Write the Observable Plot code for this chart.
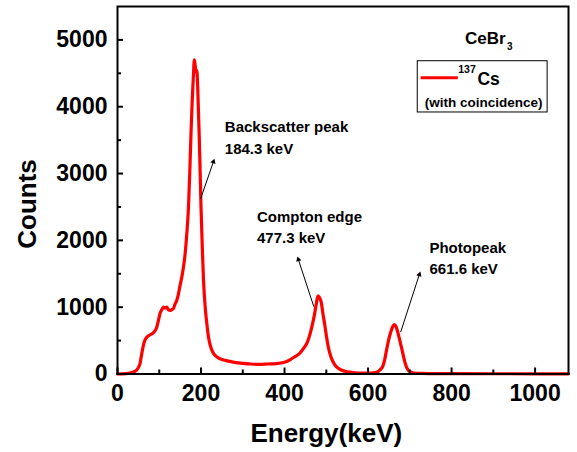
<!DOCTYPE html>
<html><head><meta charset="utf-8">
<script src="https://cdn.jsdelivr.net/npm/d3@7"></script>
<script src="https://cdn.jsdelivr.net/npm/@observablehq/plot@0.6"></script>
<style>body{margin:0;background:#fff}</style>
</head><body><div id="chart"></div>
<script>
// Spectrum (energy in keV, counts)
const energy = [0,10,20,30,40,45,50,54,58,62,66,70,76,82,88,94,98,102,106,110,114,118,122,126,130,134,138,142,146,150,154,158,162,166,170,173,176,179,182,184,186,188,190,192,194,196,198,200,203,206,210,214,218,222,228,235,245,260,280,300,320,340,360,380,400,415,425,435,445,455,462,467,472,476,480,484,488,492,496,500,504,508,514,520,530,545,560,580,600,615,622,630,635,640,645,650,655,660,663,667,671,675,680,685,690,695,700,710,730,800,900,1000,1080];
const counts = [0,2,5,15,35,55,95,160,300,430,510,550,580,600,630,700,800,910,960,1000,990,1000,960,950,965,980,1050,1100,1200,1330,1450,1600,1800,2100,2500,3000,3600,4100,4500,4700,4620,4520,4540,4300,3900,3500,3000,2500,1900,1400,1000,750,550,430,330,270,230,200,175,160,150,145,150,155,175,220,260,300,380,480,620,750,900,1050,1170,1140,1070,900,750,580,430,320,210,140,80,40,25,15,12,20,30,70,110,220,380,530,640,720,740,710,630,530,400,260,140,70,35,15,8,5,4,3,3];

const xMajorTicks = [0,200,400,600,800,1000];
const xMinorTicks = [100,300,500,700,900];
const yMajorTicks = [0,1000,2000,3000,4000,5000];
const yMinorTicks = [500,1500,2500,3500,4500];

// Annotation texts (data coordinates)
const noteX = [257,257,334,334,747,747];
const noteY = [3694,3370,2347,2035,1889,1574];
const noteText = ["Backscatter peak","184.3 keV","Compton edge","477.3 keV","Photopeak","661.6 keV"];

// Arrows (tail -> head, data coordinates)
const arrowX1 = [199,470,678];
const arrowY1 = [2622,1010,626];
const arrowX2 = [233,430,726];
const arrowY2 = [3236,1773,1549];

// Legend
const legendBox = {x1:719, x2:1030, y1:3914, y2:4681};
const legendSwatch = {x1:726, x2:815, y:4433};
const legendTexts = [
  {x:832, y:5017, text:"CeBr", size:17},
  {x:933, y:4901, text:"3", size:10},
  {x:816, y:4553, text:"137", size:10.5},
  {x:862, y:4407, text:"Cs", size:17.5}
];
const legendNote = {x:877, y:4068, text:"(with coincidence)"};

// layout
const W = 577, H = 452, mL = 117, mR = 9, mT = 6, mB = 78.5;
const xDomain = [0,1080], yDomain = [0,5500];
const frameW = W - mL - mR, frameH = H - mT - mB;
const kx = frameW / (xDomain[1]-xDomain[0]);
const ky = frameH / (yDomain[1]-yDomain[0]);
const majorLen = 6, minorLen = 4; // px, inward

const spectrum = energy.map((e,i)=>({energy:e, counts:counts[i]}));
const notes = noteText.map((t,i)=>({x:noteX[i], y:noteY[i], text:t}));
const headBack = 4.2; // px from tip to triangle centre
const arrows = arrowX1.map((d,i)=>{
  const dxp = (arrowX2[i]-arrowX1[i])*kx, dyp = -(arrowY2[i]-arrowY1[i])*ky;
  const len = Math.hypot(dxp, dyp);
  const ux = dxp/len, uy = dyp/len;
  return {x1:arrowX1[i], y1:arrowY1[i], x2:arrowX2[i], y2:arrowY2[i],
    hx: arrowX2[i] - ux*headBack/kx, hy: arrowY2[i] + uy*headBack/ky,
    angle: Math.atan2(dxp, -dyp)*180/Math.PI};
});

const font = "Liberation Sans, Arial, Helvetica, sans-serif";

const chart = Plot.plot({
  width: W, height: H,
  marginLeft: mL, marginRight: mR, marginTop: mT, marginBottom: mB,
  style: {fontFamily: font, fontWeight: "bold", background: "#fff", color: "#000"},
  x: {domain: xDomain, axis: null},
  y: {domain: yDomain, axis: null},
  marks: [
    Plot.line(spectrum, {x:"energy", y:"counts", stroke:"#ff0000", strokeWidth:3.2, curve:"monotone-x"}),
    Plot.frame({stroke:"#000", strokeWidth:2}),
    // inward ticks
    Plot.ruleX(xMajorTicks, {x:d=>d, y1:yDomain[0], y2:yDomain[0]+majorLen/ky, stroke:"#000", strokeWidth:2}),
    Plot.ruleX(xMinorTicks, {x:d=>d, y1:yDomain[0], y2:yDomain[0]+minorLen/ky, stroke:"#000", strokeWidth:2}),
    Plot.ruleY(yMajorTicks, {y:d=>d, x1:xDomain[0], x2:xDomain[0]+majorLen/kx, stroke:"#000", strokeWidth:2}),
    Plot.ruleY(yMinorTicks, {y:d=>d, x1:xDomain[0], x2:xDomain[0]+minorLen/kx, stroke:"#000", strokeWidth:2}),
    // tick labels
    Plot.axisX(xMajorTicks, {tickSize:0, tickPadding:11, tickFormat:"d", fontSize:23, fontWeight:"bold", label:null}),
    Plot.axisY(yMajorTicks, {tickSize:0, tickPadding:10, tickFormat:"d", fontSize:23, fontWeight:"bold", label:null}),
    // axis titles
    Plot.text(["Energy(keV)"], {x:[500], frameAnchor:"bottom", dy:59.5, textAnchor:"middle", lineAnchor:"middle", fontSize:26, fontWeight:"bold"}),
    Plot.text(["Counts"], {y:[2544], frameAnchor:"left", dx:-90, rotate:-90, textAnchor:"middle", lineAnchor:"middle", fontSize:26, fontWeight:"bold"}),
    // annotations
    Plot.text(notes, {x:"x", y:"y", text:"text", textAnchor:"start", lineAnchor:"middle", fontSize:15, fontWeight:"bold"}),
    Plot.link(arrows, {x1:"x1", y1:"y1", x2:"hx", y2:"hy", stroke:"#000", strokeWidth:1}),
    Plot.dot(arrows, {x:"hx", y:"hy", symbol:"triangle2", r:2.6, rotate:"angle", fill:"#000", stroke:null}),
    // legend
    Plot.rect([legendBox], {x1:"x1", x2:"x2", y1:"y1", y2:"y2", fill:"#fff", stroke:"#000", strokeWidth:1}),
    Plot.link([legendSwatch], {x1:"x1", x2:"x2", y1:"y", y2:"y", stroke:"#ff0000", strokeWidth:3}),
    Plot.text(legendTexts, {x:"x", y:"y", text:"text", fontSize:d=>d.size, textAnchor:"start", lineAnchor:"middle", fontWeight:"bold"}),
    Plot.text([legendNote], {x:"x", y:"y", text:"text", textAnchor:"middle", lineAnchor:"middle", fontSize:13.5, fontWeight:"bold"})
  ]
});
document.getElementById("chart").appendChild(chart);
</script>
</body></html>
